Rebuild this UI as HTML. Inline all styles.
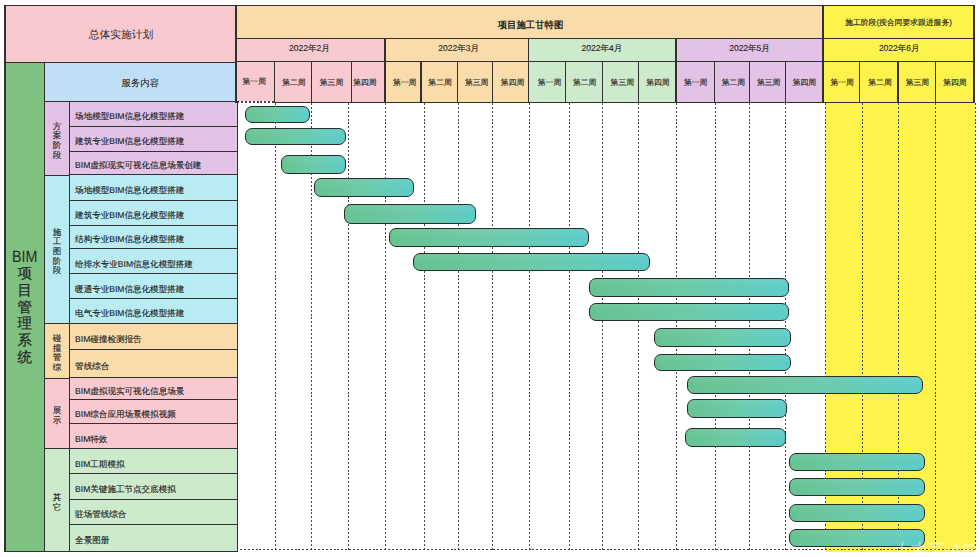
<!DOCTYPE html>
<html><head><meta charset="utf-8"><style>
html,body{margin:0;padding:0;background:#fff;width:980px;height:557px;overflow:hidden;position:relative;font-family:"Liberation Sans",sans-serif;color:#333;text-rendering:geometricPrecision}
.c{position:absolute;box-sizing:border-box;display:flex;align-items:center;justify-content:center;text-align:center;white-space:nowrap}
.c span{display:block;line-height:1.1}
.l{position:absolute}
.t{position:absolute;text-align:center;white-space:nowrap}
.c span{color:#262626;-webkit-text-stroke:0.15px #262626}
.dv{position:absolute;width:1px;background:repeating-linear-gradient(180deg,#444 0 2px,transparent 2px 3.9px)}
.dh{position:absolute;height:1px;background:repeating-linear-gradient(90deg,#444 0 2px,transparent 2px 3.9px)}
.bar{position:absolute;box-sizing:border-box;border:1.6px solid #2b2b2b;border-radius:7px;background:linear-gradient(180deg,rgba(255,255,255,0.06),rgba(255,255,255,0) 60%),linear-gradient(100deg,#66c390 0%,#6ccaa9 50%,#5ccdca 100%)}
</style></head><body>
<div style="position:absolute;left:825px;top:102px;width:150px;height:449.5px;background:#fdf34c"></div>
<div class="dv" style="left:275px;top:103px;height:447px"></div>
<div class="dv" style="left:311px;top:103px;height:447px"></div>
<div class="dv" style="left:348px;top:103px;height:447px"></div>
<div class="dv" style="left:385px;top:103px;height:447px"></div>
<div class="dv" style="left:424px;top:103px;height:447px"></div>
<div class="dv" style="left:458px;top:103px;height:447px"></div>
<div class="dv" style="left:492px;top:103px;height:447px"></div>
<div class="dv" style="left:529px;top:103px;height:447px"></div>
<div class="dv" style="left:569px;top:103px;height:447px"></div>
<div class="dv" style="left:602px;top:103px;height:447px"></div>
<div class="dv" style="left:638px;top:103px;height:447px"></div>
<div class="dv" style="left:676px;top:103px;height:447px"></div>
<div class="dv" style="left:715px;top:103px;height:447px"></div>
<div class="dv" style="left:749px;top:103px;height:447px"></div>
<div class="dv" style="left:785px;top:103px;height:447px"></div>
<div class="dv" style="left:825px;top:103px;height:447px"></div>
<div class="dv" style="left:862px;top:103px;height:447px"></div>
<div class="dv" style="left:898px;top:103px;height:447px"></div>
<div class="dv" style="left:935px;top:103px;height:447px"></div>
<div class="dv" style="left:975px;top:103px;height:447px"></div>
<div class="dh" style="left:236px;top:549px;width:740px"></div>
<div class="bar" style="left:244.6px;top:106px;width:65.3px;height:17px"></div>
<div class="bar" style="left:245.0px;top:128px;width:100.8px;height:17px"></div>
<div class="bar" style="left:280.9px;top:155px;width:65.3px;height:19px"></div>
<div class="bar" style="left:313.6px;top:178px;width:100.4px;height:19px"></div>
<div class="bar" style="left:343.9px;top:204px;width:132.6px;height:20px"></div>
<div class="bar" style="left:388.6px;top:228px;width:200.6px;height:19px"></div>
<div class="bar" style="left:413.3px;top:253px;width:236.7px;height:18px"></div>
<div class="bar" style="left:588.8px;top:278px;width:200.6px;height:19px"></div>
<div class="bar" style="left:588.8px;top:303px;width:200.6px;height:18px"></div>
<div class="bar" style="left:654.3px;top:328px;width:137.1px;height:19px"></div>
<div class="bar" style="left:654.3px;top:354px;width:137.1px;height:17px"></div>
<div class="bar" style="left:686.7px;top:376px;width:236.2px;height:18px"></div>
<div class="bar" style="left:686.7px;top:399px;width:100.6px;height:19px"></div>
<div class="bar" style="left:685.3px;top:428px;width:100.6px;height:19px"></div>
<div class="bar" style="left:789.2px;top:453px;width:136.3px;height:18px"></div>
<div class="bar" style="left:789.2px;top:478px;width:136.3px;height:18px"></div>
<div class="bar" style="left:789.2px;top:504px;width:136.3px;height:18px"></div>
<div class="bar" style="left:789.2px;top:529px;width:136.3px;height:18px"></div>
<div class="c" style="left:5.0px;top:5.7px;width:231.0px;height:56.6px;background:#f8cad0;padding-top:4px;padding-left:1px"><span style="font-size:10.75px;-webkit-text-stroke:0;color:#2a2a2a">总体实施计划</span></div>
<div class="c" style="left:44.5px;top:62.3px;width:191.5px;height:40.0px;background:#bfdff6;padding-top:2px"><span style="font-size:9.4px;-webkit-text-stroke:0.08px #222;color:#222">服务内容</span></div>
<div class="c" style="left:5.0px;top:62.3px;width:39.5px;height:489.5px;background:#7fc181;"><span style="font-size:17px;"></span></div>
<div class="t" style="left:5px;width:39.5px;top:247.0px;height:20px;font-size:16.5px;line-height:20px;color:#2a2a2a;transform:scaleX(0.87);">BIM</div>
<div class="t" style="left:5px;width:39.5px;top:264.3px;height:20px;font-size:14.5px;line-height:20px;color:#2a2a2a;-webkit-text-stroke:0.25px #2a2a2a;">项</div>
<div class="t" style="left:5px;width:39.5px;top:281.0px;height:20px;font-size:14.5px;line-height:20px;color:#2a2a2a;-webkit-text-stroke:0.25px #2a2a2a;">目</div>
<div class="t" style="left:5px;width:39.5px;top:297.7px;height:20px;font-size:14.5px;line-height:20px;color:#2a2a2a;-webkit-text-stroke:0.25px #2a2a2a;">管</div>
<div class="t" style="left:5px;width:39.5px;top:314.4px;height:20px;font-size:14.5px;line-height:20px;color:#2a2a2a;-webkit-text-stroke:0.25px #2a2a2a;">理</div>
<div class="t" style="left:5px;width:39.5px;top:331.1px;height:20px;font-size:14.5px;line-height:20px;color:#2a2a2a;-webkit-text-stroke:0.25px #2a2a2a;">系</div>
<div class="t" style="left:5px;width:39.5px;top:347.8px;height:20px;font-size:14.5px;line-height:20px;color:#2a2a2a;-webkit-text-stroke:0.25px #2a2a2a;">统</div>
<div class="c" style="left:44.5px;top:102.0px;width:25.1px;height:73.2px;background:#e2c2e5;padding-top:5px"><span style="font-size:8.5px;line-height:9.7px">方<br>案<br>阶<br>段</span></div>
<div class="c" style="left:44.5px;top:175.2px;width:25.1px;height:148.4px;background:#b9ebf2;padding-top:5px"><span style="font-size:8.5px;line-height:9.7px">施<br>工<br>图<br>阶<br>段</span></div>
<div class="c" style="left:44.5px;top:323.6px;width:25.1px;height:54.8px;background:#fadcab;padding-top:5px"><span style="font-size:8.5px;line-height:9.7px">碰<br>撞<br>管<br>综</span></div>
<div class="c" style="left:44.5px;top:378.4px;width:25.1px;height:70.4px;background:#f8cad0;padding-top:5px"><span style="font-size:8.5px;line-height:9.7px">展<br>示</span></div>
<div class="c" style="left:44.5px;top:448.8px;width:25.1px;height:103.0px;background:#cdeacd;padding-top:5px"><span style="font-size:8.5px;line-height:9.7px">其<br>它</span></div>
<div class="c" style="left:69.6px;top:102.0px;width:167.6px;height:24.2px;background:#e2c2e5;justify-content:flex-start;padding-left:5.5px;padding-top:6px"><span style="font-size:8.55px;">场地模型BIM信息化模型搭建</span></div>
<div class="c" style="left:69.6px;top:126.2px;width:167.6px;height:25.2px;background:#e2c2e5;justify-content:flex-start;padding-left:5.5px;padding-top:6px"><span style="font-size:8.55px;">建筑专业BIM信息化模型搭建</span></div>
<div class="c" style="left:69.6px;top:151.5px;width:167.6px;height:23.2px;background:#e2c2e5;justify-content:flex-start;padding-left:5.5px;padding-top:6px"><span style="font-size:8.55px;">BIM虚拟现实可视化信息场景创建</span></div>
<div class="c" style="left:69.6px;top:174.7px;width:167.6px;height:25.9px;background:#b9ebf2;justify-content:flex-start;padding-left:5.5px;padding-top:6px"><span style="font-size:8.55px;">场地模型BIM信息化模型搭建</span></div>
<div class="c" style="left:69.6px;top:200.6px;width:167.6px;height:24.9px;background:#b9ebf2;justify-content:flex-start;padding-left:5.5px;padding-top:6px"><span style="font-size:8.55px;">建筑专业BIM信息化模型搭建</span></div>
<div class="c" style="left:69.6px;top:225.5px;width:167.6px;height:23.2px;background:#b9ebf2;justify-content:flex-start;padding-left:5.5px;padding-top:6px"><span style="font-size:8.55px;">结构专业BIM信息化模型搭建</span></div>
<div class="c" style="left:69.6px;top:248.7px;width:167.6px;height:25.2px;background:#b9ebf2;justify-content:flex-start;padding-left:5.5px;padding-top:6px"><span style="font-size:8.55px;">给排水专业BIM信息化模型搭建</span></div>
<div class="c" style="left:69.6px;top:273.9px;width:167.6px;height:24.8px;background:#b9ebf2;justify-content:flex-start;padding-left:5.5px;padding-top:6px"><span style="font-size:8.55px;">暖通专业BIM信息化模型搭建</span></div>
<div class="c" style="left:69.6px;top:298.7px;width:167.6px;height:24.9px;background:#b9ebf2;justify-content:flex-start;padding-left:5.5px;padding-top:6px"><span style="font-size:8.55px;">电气专业BIM信息化模型搭建</span></div>
<div class="c" style="left:69.6px;top:323.6px;width:167.6px;height:26.3px;background:#fadcab;justify-content:flex-start;padding-left:5.5px;padding-top:6px"><span style="font-size:8.55px;">BIM碰撞检测报告</span></div>
<div class="c" style="left:69.6px;top:349.9px;width:167.6px;height:27.3px;background:#fadcab;justify-content:flex-start;padding-left:5.5px;padding-top:6px"><span style="font-size:8.55px;">管线综合</span></div>
<div class="c" style="left:69.6px;top:377.2px;width:167.6px;height:22.1px;background:#f8cad0;justify-content:flex-start;padding-left:5.5px;padding-top:6px"><span style="font-size:8.55px;">BIM虚拟现实可视化信息场景</span></div>
<div class="c" style="left:69.6px;top:399.3px;width:167.6px;height:24.6px;background:#f8cad0;justify-content:flex-start;padding-left:5.5px;padding-top:6px"><span style="font-size:8.55px;">BIM综合应用场景模拟视频</span></div>
<div class="c" style="left:69.6px;top:423.9px;width:167.6px;height:24.9px;background:#f8cad0;justify-content:flex-start;padding-left:5.5px;padding-top:6px"><span style="font-size:8.55px;">BIM特效</span></div>
<div class="c" style="left:69.6px;top:448.8px;width:167.6px;height:24.8px;background:#cdeacd;justify-content:flex-start;padding-left:5.5px;padding-top:6px"><span style="font-size:8.55px;">BIM工期模拟</span></div>
<div class="c" style="left:69.6px;top:473.6px;width:167.6px;height:25.5px;background:#cdeacd;justify-content:flex-start;padding-left:5.5px;padding-top:6px"><span style="font-size:8.55px;">BIM关键施工节点交底模拟</span></div>
<div class="c" style="left:69.6px;top:499.1px;width:167.6px;height:25.2px;background:#cdeacd;justify-content:flex-start;padding-left:5.5px;padding-top:6px"><span style="font-size:8.55px;">驻场管线综合</span></div>
<div class="c" style="left:69.6px;top:524.3px;width:167.6px;height:27.5px;background:#cdeacd;justify-content:flex-start;padding-left:5.5px;padding-top:6px"><span style="font-size:8.55px;">全景图册</span></div>
<div class="c" style="left:236.0px;top:5.7px;width:587.0px;height:32.5px;background:#fadcab;padding-top:6px;padding-left:2px"><span style="font-size:9.4px;"><b style="-webkit-text-stroke:0">项目施工甘特图</b></span></div>
<div class="c" style="left:823.0px;top:5.7px;width:151.0px;height:32.5px;background:#fdf34c;padding-top:2px"><span style="font-size:7.8px;">施工阶段(按合同要求跟进服务)</span></div>
<div class="c" style="left:236.0px;top:38.2px;width:149.0px;height:23.0px;background:#f8cad0;padding-bottom:1.8px;padding-left:0.0px;padding-right:2.2px"><span style="font-size:8.5px;">2022年2月</span></div>
<div class="c" style="left:236.0px;top:61.2px;width:38.5px;height:39.8px;background:#f8cad0;padding-top:2.7px;padding-left:0.0px;padding-right:2.0px"><span style="font-size:7.8px;">第一周</span></div>
<div class="c" style="left:274.5px;top:61.2px;width:37.1px;height:41.1px;background:#f8cad0;padding-top:4px;padding-left:1.6px;padding-right:0.0px"><span style="font-size:7.8px;">第二周</span></div>
<div class="c" style="left:311.6px;top:61.2px;width:39.8px;height:41.1px;background:#f8cad0;padding-top:4px;padding-left:0.0px;padding-right:-0.0px"><span style="font-size:7.8px;">第三周</span></div>
<div class="c" style="left:351.4px;top:61.2px;width:33.6px;height:41.1px;background:#f8cad0;padding-top:4px;padding-left:0.0px;padding-right:6.6px"><span style="font-size:7.8px;">第四周</span></div>
<div class="c" style="left:385.0px;top:38.2px;width:143.8px;height:23.0px;background:#fadcab;padding-bottom:1.8px;padding-left:3.4px;padding-right:0.0px"><span style="font-size:8.5px;">2022年3月</span></div>
<div class="c" style="left:385.0px;top:61.2px;width:36.0px;height:41.1px;background:#fadcab;padding-top:4px;padding-left:3.4px;padding-right:0.0px"><span style="font-size:7.8px;">第一周</span></div>
<div class="c" style="left:421.0px;top:61.2px;width:36.3px;height:41.1px;background:#fadcab;padding-top:4px;padding-left:1.8px;padding-right:0.0px"><span style="font-size:7.8px;">第二周</span></div>
<div class="c" style="left:457.3px;top:61.2px;width:35.4px;height:41.1px;background:#fadcab;padding-top:4px;padding-left:3.2px;padding-right:0.0px"><span style="font-size:7.8px;">第三周</span></div>
<div class="c" style="left:492.7px;top:61.2px;width:36.1px;height:41.1px;background:#fadcab;padding-top:4px;padding-left:3.6px;padding-right:0.0px"><span style="font-size:7.8px;">第四周</span></div>
<div class="c" style="left:528.8px;top:38.2px;width:147.2px;height:23.0px;background:#cdeacd;padding-bottom:1.8px;padding-left:0.0px;padding-right:1.0px"><span style="font-size:8.5px;">2022年4月</span></div>
<div class="c" style="left:528.8px;top:61.2px;width:36.7px;height:41.1px;background:#cdeacd;padding-top:4px;padding-left:4.8px;padding-right:0.0px"><span style="font-size:7.8px;">第一周</span></div>
<div class="c" style="left:565.5px;top:61.2px;width:36.7px;height:41.1px;background:#cdeacd;padding-top:4px;padding-left:1.6px;padding-right:0.0px"><span style="font-size:7.8px;">第二周</span></div>
<div class="c" style="left:602.2px;top:61.2px;width:36.2px;height:41.1px;background:#cdeacd;padding-top:4px;padding-left:4.0px;padding-right:0.0px"><span style="font-size:7.8px;">第三周</span></div>
<div class="c" style="left:638.4px;top:61.2px;width:37.6px;height:41.1px;background:#cdeacd;padding-top:4px;padding-left:1.4px;padding-right:0.0px"><span style="font-size:7.8px;">第四周</span></div>
<div class="c" style="left:676.0px;top:38.2px;width:147.0px;height:23.0px;background:#e2c2e5;padding-bottom:1.8px;padding-left:0.0px;padding-right:0.0px"><span style="font-size:8.5px;">2022年5月</span></div>
<div class="c" style="left:676.0px;top:61.2px;width:38.3px;height:41.1px;background:#e2c2e5;padding-top:4px;padding-left:1.0px;padding-right:0.0px"><span style="font-size:7.8px;">第一周</span></div>
<div class="c" style="left:714.3px;top:61.2px;width:35.3px;height:41.1px;background:#e2c2e5;padding-top:4px;padding-left:3.0px;padding-right:0.0px"><span style="font-size:7.8px;">第二周</span></div>
<div class="c" style="left:749.6px;top:61.2px;width:35.6px;height:41.1px;background:#e2c2e5;padding-top:4px;padding-left:2.4px;padding-right:0.0px"><span style="font-size:7.8px;">第三周</span></div>
<div class="c" style="left:785.2px;top:61.2px;width:37.8px;height:41.1px;background:#e2c2e5;padding-top:4px;padding-left:0.6px;padding-right:0.0px"><span style="font-size:7.8px;">第四周</span></div>
<div class="c" style="left:823.0px;top:38.2px;width:151.0px;height:23.0px;background:#fdf34c;padding-bottom:1.8px;padding-left:1.4px;padding-right:0.0px"><span style="font-size:8.5px;">2022年6月</span></div>
<div class="c" style="left:823.0px;top:61.2px;width:36.6px;height:41.1px;background:#fdf34c;padding-top:4px;padding-left:1.8px;padding-right:0.0px"><span style="font-size:7.8px;">第一周</span></div>
<div class="c" style="left:859.6px;top:61.2px;width:38.4px;height:41.1px;background:#fdf34c;padding-top:4px;padding-left:2.4px;padding-right:0.0px"><span style="font-size:7.8px;">第二周</span></div>
<div class="c" style="left:898.0px;top:61.2px;width:37.5px;height:41.1px;background:#fdf34c;padding-top:4px;padding-left:1.4px;padding-right:0.0px"><span style="font-size:7.8px;">第三周</span></div>
<div class="c" style="left:935.5px;top:61.2px;width:38.5px;height:41.1px;background:#fdf34c;padding-top:4px;padding-left:0.4px;padding-right:0.0px"><span style="font-size:7.8px;">第四周</span></div>
<div class="l" style="left:4.45px;top:5.15px;width:970.10px;height:1.1px;background:#303030"></div>
<div class="l" style="left:235.45px;top:37.65px;width:739.10px;height:1.1px;background:#303030"></div>
<div class="l" style="left:235.45px;top:60.65px;width:739.10px;height:1.1px;background:#303030"></div>
<div class="l" style="left:4.45px;top:61.75px;width:232.10px;height:1.1px;background:#303030"></div>
<div class="l" style="left:43.95px;top:101.35px;width:192.60px;height:1.1px;background:#303030"></div>
<div class="l" style="left:273.95px;top:101.75px;width:700.60px;height:1.1px;background:#303030"></div>
<div class="dh" style="left:237px;top:101px;width:37px;height:1.5px"></div>
<div class="l" style="left:69.05px;top:125.70px;width:168.70px;height:1.1px;background:#303030"></div>
<div class="l" style="left:69.05px;top:150.95px;width:168.70px;height:1.1px;background:#303030"></div>
<div class="l" style="left:69.05px;top:174.15px;width:168.70px;height:1.1px;background:#303030"></div>
<div class="l" style="left:69.05px;top:200.05px;width:168.70px;height:1.1px;background:#303030"></div>
<div class="l" style="left:69.05px;top:224.95px;width:168.70px;height:1.1px;background:#303030"></div>
<div class="l" style="left:69.05px;top:248.15px;width:168.70px;height:1.1px;background:#303030"></div>
<div class="l" style="left:69.05px;top:273.35px;width:168.70px;height:1.1px;background:#303030"></div>
<div class="l" style="left:69.05px;top:298.15px;width:168.70px;height:1.1px;background:#303030"></div>
<div class="l" style="left:69.05px;top:323.05px;width:168.70px;height:1.1px;background:#303030"></div>
<div class="l" style="left:69.05px;top:349.35px;width:168.70px;height:1.1px;background:#303030"></div>
<div class="l" style="left:69.05px;top:376.65px;width:168.70px;height:1.1px;background:#303030"></div>
<div class="l" style="left:69.05px;top:398.75px;width:168.70px;height:1.1px;background:#303030"></div>
<div class="l" style="left:69.05px;top:423.35px;width:168.70px;height:1.1px;background:#303030"></div>
<div class="l" style="left:69.05px;top:448.25px;width:168.70px;height:1.1px;background:#303030"></div>
<div class="l" style="left:69.05px;top:473.05px;width:168.70px;height:1.1px;background:#303030"></div>
<div class="l" style="left:69.05px;top:498.55px;width:168.70px;height:1.1px;background:#303030"></div>
<div class="l" style="left:69.05px;top:523.75px;width:168.70px;height:1.1px;background:#303030"></div>
<div class="l" style="left:43.95px;top:174.65px;width:26.20px;height:1.1px;background:#303030"></div>
<div class="l" style="left:43.95px;top:323.05px;width:26.20px;height:1.1px;background:#303030"></div>
<div class="l" style="left:43.95px;top:377.85px;width:26.20px;height:1.1px;background:#303030"></div>
<div class="l" style="left:43.95px;top:448.25px;width:26.20px;height:1.1px;background:#303030"></div>
<div class="l" style="left:43.95px;top:551.25px;width:26.20px;height:1.1px;background:#303030"></div>
<div class="l" style="left:4.45px;top:551.25px;width:233.30px;height:1.1px;background:#303030"></div>
<div class="l" style="left:4.45px;top:5.15px;width:1.1px;height:547.20px;background:#303030"></div>
<div class="l" style="left:235.45px;top:5.15px;width:1.1px;height:97.70px;background:#303030"></div>
<div class="l" style="left:236.65px;top:101.75px;width:1.1px;height:450.60px;background:#303030"></div>
<div class="l" style="left:43.95px;top:61.75px;width:1.1px;height:490.60px;background:#303030"></div>
<div class="l" style="left:69.05px;top:101.75px;width:1.1px;height:450.60px;background:#303030"></div>
<div class="l" style="left:822.45px;top:5.15px;width:1.1px;height:97.70px;background:#303030"></div>
<div class="l" style="left:973.45px;top:5.15px;width:1.1px;height:97.70px;background:#303030"></div>
<div class="l" style="left:384.45px;top:37.65px;width:1.1px;height:65.20px;background:#303030"></div>
<div class="l" style="left:528.25px;top:37.65px;width:1.1px;height:65.20px;background:#303030"></div>
<div class="l" style="left:675.45px;top:37.65px;width:1.1px;height:65.20px;background:#303030"></div>
<div class="l" style="left:822.45px;top:37.65px;width:1.1px;height:65.20px;background:#303030"></div>
<div class="l" style="left:273.95px;top:60.65px;width:1.1px;height:42.20px;background:#303030"></div>
<div class="l" style="left:311.05px;top:60.65px;width:1.1px;height:42.20px;background:#303030"></div>
<div class="l" style="left:350.85px;top:60.65px;width:1.1px;height:42.20px;background:#303030"></div>
<div class="l" style="left:420.45px;top:60.65px;width:1.1px;height:42.20px;background:#303030"></div>
<div class="l" style="left:456.75px;top:60.65px;width:1.1px;height:42.20px;background:#303030"></div>
<div class="l" style="left:492.15px;top:60.65px;width:1.1px;height:42.20px;background:#303030"></div>
<div class="l" style="left:564.95px;top:60.65px;width:1.1px;height:42.20px;background:#303030"></div>
<div class="l" style="left:601.65px;top:60.65px;width:1.1px;height:42.20px;background:#303030"></div>
<div class="l" style="left:637.85px;top:60.65px;width:1.1px;height:42.20px;background:#303030"></div>
<div class="l" style="left:713.75px;top:60.65px;width:1.1px;height:42.20px;background:#303030"></div>
<div class="l" style="left:749.05px;top:60.65px;width:1.1px;height:42.20px;background:#303030"></div>
<div class="l" style="left:784.65px;top:60.65px;width:1.1px;height:42.20px;background:#303030"></div>
<div class="l" style="left:859.05px;top:60.65px;width:1.1px;height:42.20px;background:#303030"></div>
<div class="l" style="left:897.45px;top:60.65px;width:1.1px;height:42.20px;background:#303030"></div>
<div class="l" style="left:934.95px;top:60.65px;width:1.1px;height:42.20px;background:#303030"></div>
<div style="position:absolute;left:893px;top:541px;font-size:17px;line-height:20px;font-weight:bold;color:rgba(255,255,255,0.45);white-space:nowrap;transform:skewX(-8deg)">土木工·AEC</div>
</body></html>
